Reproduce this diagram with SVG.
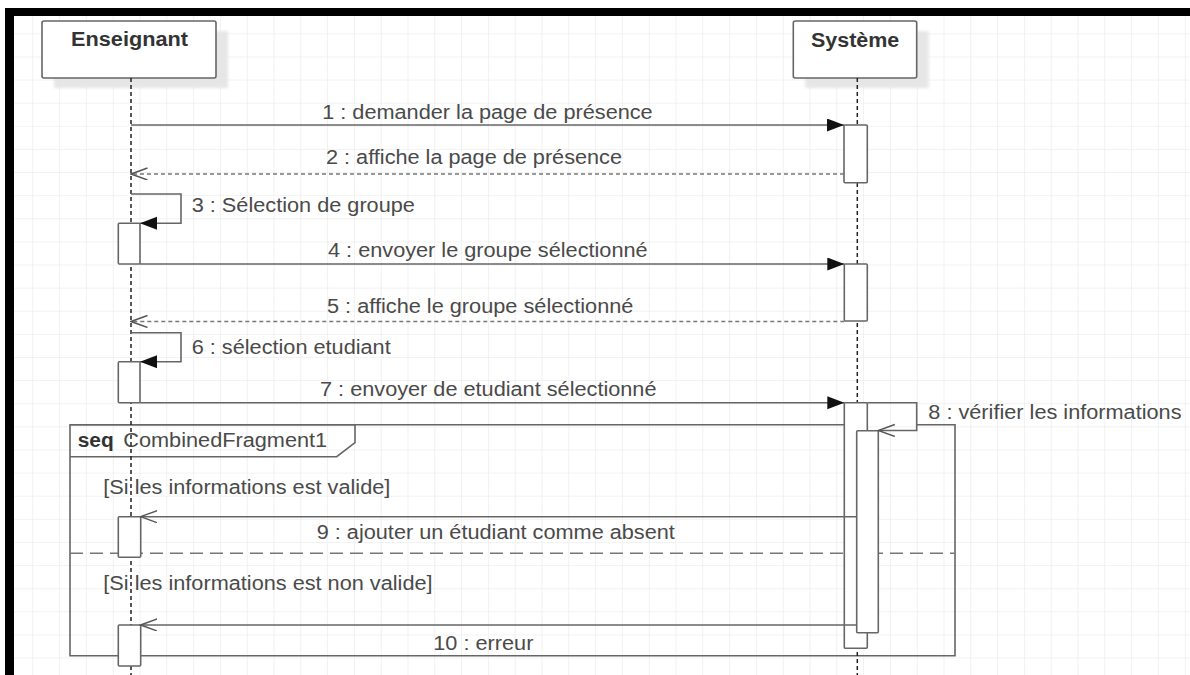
<svg xmlns="http://www.w3.org/2000/svg" width="1190" height="675" viewBox="0 0 1190 675">
<defs>
<pattern id="grid" patternUnits="userSpaceOnUse" x="5.5" y="10.2" width="26.8" height="23.12">
<path d="M0,0 H26.8 M0,0 V23.12" fill="none" stroke="#eeeeee" stroke-width="1.6"/>
</pattern>
<filter id="sh" x="-20%" y="-20%" width="140%" height="140%"><feGaussianBlur stdDeviation="1.5"/></filter>
<marker id="fill" markerWidth="18" markerHeight="14" refX="17" refY="6.5" orient="auto" markerUnits="userSpaceOnUse">
<path d="M0,0 L17,6.5 L0,13 Z" fill="#111"/>
</marker>
<marker id="open" markerWidth="18" markerHeight="14" refX="16.5" refY="6" orient="auto" markerUnits="userSpaceOnUse">
<path d="M0,0 L16.5,6 L0,12" fill="none" stroke="#555" stroke-width="1.4"/>
</marker>
<style>
.t{font-family:"Liberation Sans",Arial,sans-serif;font-size:20px;fill:#4a4a4a}
.b{font-family:"Liberation Sans",Arial,sans-serif;font-size:20px;font-weight:bold;fill:#333}
.box{fill:#fff;stroke:#666;stroke-width:1.6}
.shadow{fill:#e6e6e6;filter:url(#sh)}
.life{stroke:#222;stroke-width:1.5;stroke-dasharray:4 3;fill:none}
.act{fill:#fff;stroke:#666;stroke-width:1.6}
.msg{stroke:#666;stroke-width:1.6;fill:none}
.ret{stroke:#777;stroke-width:1.6;fill:none;stroke-dasharray:4 3}
.frag{stroke:#666;stroke-width:1.6;fill:none}
.sep{stroke:#777;stroke-width:1.6;fill:none;stroke-dasharray:13 7}
</style>
</defs>
<rect x="0" y="0" width="1190" height="675" fill="#fff"/>
<rect x="5" y="8" width="1185" height="667" fill="url(#grid)"/>
<rect x="5" y="8" width="1185" height="8" fill="#000"/>
<rect x="5" y="8" width="9" height="667" fill="#000"/>

<g id="fragment">
<path class="frag" d="M844,424.7 H70 V655.7 H955 V424.7 H916.7"/>
<path class="frag" d="M70,424.7 H355 V442.7 L336.7,456.7 H70"/>
<line class="sep" x1="70" y1="553.3" x2="955" y2="553.3"/>
<text class="b" x="77.7" y="446.7" textLength="36" lengthAdjust="spacingAndGlyphs">seq</text>
<text class="t" x="123.3" y="446.7" textLength="203.9" lengthAdjust="spacingAndGlyphs">CombinedFragment1</text>
<text class="t" x="103.3" y="494.3" textLength="287" lengthAdjust="spacingAndGlyphs">[Si les informations est valide]</text>
<text class="t" x="103.3" y="590" textLength="329.3" lengthAdjust="spacingAndGlyphs">[Si les informations est non valide]</text>
</g>

<g id="enseignant">
<rect class="shadow" x="54" y="31" width="174" height="57"/>
<rect class="box" x="42" y="21" width="174" height="57" rx="2"/>
<text class="b" x="71" y="46" textLength="117" lengthAdjust="spacingAndGlyphs">Enseignant</text>
<line class="life" x1="131" y1="78" x2="131" y2="675"/>
<rect class="act" x="118.3" y="223.3" width="21.7" height="40.7" rx="1"/>
<rect class="act" x="118.3" y="361.7" width="21.7" height="41" rx="1"/>
<rect class="act" x="118.3" y="516.7" width="22.4" height="40.6" rx="1"/>
<rect class="act" x="118.3" y="625" width="22.4" height="41" rx="1"/>
</g>

<g id="systeme">
<rect class="shadow" x="805.3" y="31" width="123.4" height="57"/>
<rect class="box" x="793.3" y="21" width="123.4" height="57" rx="2"/>
<text class="b" x="811" y="46.7" textLength="88.3" lengthAdjust="spacingAndGlyphs">Système</text>
<line class="life" x1="857.3" y1="78" x2="857.3" y2="675"/>
<rect class="act" x="844" y="125" width="23.3" height="57.7" rx="1"/>
<rect class="act" x="844.3" y="264" width="23" height="57" rx="1"/>
<rect class="act" x="844.3" y="402.7" width="23" height="245.6" rx="1"/>
<rect class="act" x="856.7" y="430.7" width="21.6" height="202" rx="1"/>
</g>

<g id="connectors">
<line class="msg" x1="131" y1="125" x2="844" y2="125" marker-end="url(#fill)"/>
<text class="t" x="322.2" y="119" textLength="330.5" lengthAdjust="spacingAndGlyphs">1 : demander la page de présence</text>
<line class="ret" x1="844" y1="174" x2="131" y2="174" marker-end="url(#open)"/>
<text class="t" x="326" y="164" textLength="296" lengthAdjust="spacingAndGlyphs">2 : affiche la page de présence</text>
<path class="msg" d="M131,194 H181 V223.3 H140" marker-end="url(#fill)"/>
<text class="t" x="191.7" y="212.3" textLength="223.2" lengthAdjust="spacingAndGlyphs">3 : Sélection de groupe</text>
<line class="msg" x1="140" y1="264" x2="844.3" y2="264" marker-end="url(#fill)"/>
<text class="t" x="328" y="257" textLength="319.6" lengthAdjust="spacingAndGlyphs">4 : envoyer le groupe sélectionné</text>
<line class="ret" x1="844.3" y1="321.5" x2="131" y2="321.5" marker-end="url(#open)"/>
<text class="t" x="327" y="313" textLength="306.4" lengthAdjust="spacingAndGlyphs">5 : affiche le groupe sélectionné</text>
<path class="msg" d="M131,332.7 H181 V361.7 H140" marker-end="url(#fill)"/>
<text class="t" x="191.7" y="354" textLength="199" lengthAdjust="spacingAndGlyphs">6 : sélection etudiant</text>
<line class="msg" x1="140" y1="402.7" x2="844.3" y2="402.7" marker-end="url(#fill)"/>
<text class="t" x="320" y="396" textLength="336.5" lengthAdjust="spacingAndGlyphs">7 : envoyer de etudiant sélectionné</text>
<path class="msg" d="M867.3,402.7 H916.7 V430.5 H878.3" marker-end="url(#open)"/>
<text class="t" x="928.3" y="419.3" textLength="253.2" lengthAdjust="spacingAndGlyphs">8 : vérifier les informations</text>
<line class="msg" x1="856.7" y1="516.7" x2="140.7" y2="516.7" marker-end="url(#open)"/>
<text class="t" x="316.7" y="539.3" textLength="358.2" lengthAdjust="spacingAndGlyphs">9 : ajouter un étudiant comme absent</text>
<line class="msg" x1="856.7" y1="625" x2="140.7" y2="625" marker-end="url(#open)"/>
<text class="t" x="433.3" y="650" textLength="100.1" lengthAdjust="spacingAndGlyphs">10 : erreur</text>
</g>
</svg>
